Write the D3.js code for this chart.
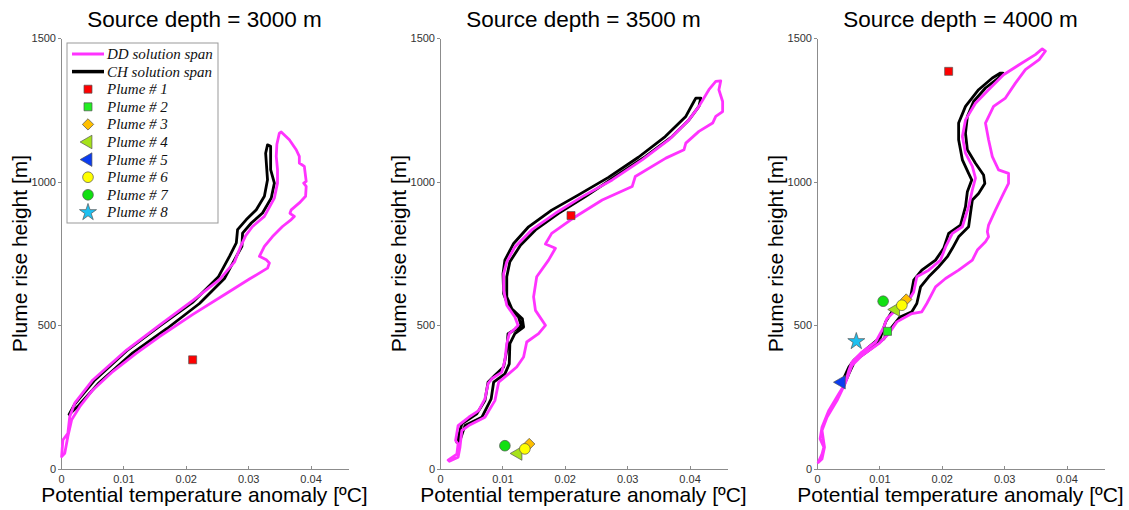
<!DOCTYPE html>
<meta charset="utf-8">
<html>
<head>
<title>Plume rise height vs temperature anomaly</title>
<style>
  body { margin: 0; background: #fff; }
  .axis path, .axis line { stroke: #8c8c8c; shape-rendering: crispEdges; }
  .axis text { font: 11px "Liberation Sans", Arial, sans-serif; fill: #333; }
  .title, .label { font-family: "Liberation Sans", Arial, sans-serif; fill: #000; }
  .legend text { font: italic 15px "Liberation Serif", "Times New Roman", serif; fill: #111; }
</style>
</head>
<body>
<div id="chart"></div>
<script src="https://d3js.org/d3.v7.min.js"></script>
<script>
// ---- data ([temperature anomaly ºC, height m]) ----
var depths = ["3000", "3500", "4000"];
var xTicks = [0, 0.01, 0.02, 0.03, 0.04];
var xTickLabels = ["0", "0.01", "0.02", "0.03", "0.04"];
var yTicks = [0, 500, 1000, 1500];
var yTickLabels = ["0", "500", "1000", "1500"];

// source depth 3000 m
var dd3000 = [[0.0001,43],[0.0003,101],[0.0011,124],[0.0014,182],[0.0022,229],[0.0051,310],[0.0105,414],
  [0.0158,501],[0.0212,588],[0.0254,659],[0.0278,720],[0.0288,775],[0.0296,812],[0.0307,844],[0.0326,879],
  [0.0342,943],[0.0347,995],[0.0347,1042],[0.0345,1088],[0.0346,1130],[0.0350,1169],[0.0353,1173],
  [0.0366,1146],[0.0377,1111],[0.0382,1088],[0.0382,1065],[0.0390,1053],[0.0393,1001],[0.0389,995],[0.0393,984],
  [0.0392,949],[0.0382,926],[0.0369,902],[0.0367,890],[0.0374,879],[0.0369,868],[0.0355,844],[0.0339,809],
  [0.0326,775],[0.0318,740],[0.0329,728],[0.0334,717],[0.0331,699],[0.0302,661],[0.0265,611],[0.0212,539],
  [0.0158,461],[0.0121,403],[0.0083,339],[0.0051,275],[0.0030,217],[0.0017,171],[0.0011,113],[0.0006,55]];
var ch3000 = [[0.0013,190],[0.0022,226],[0.0053,307],[0.0105,411],[0.0158,497],[0.0212,582],[0.0252,668],
  [0.0270,740],[0.0281,787],[0.0283,833],[0.0297,868],[0.0313,902],[0.0326,949],[0.0331,1007],[0.0328,1099],
  [0.0331,1128],[0.0336,1123],[0.0336,1042],[0.0342,995],[0.0337,943],[0.0323,891],[0.0305,856],[0.0291,821],
  [0.0290,775],[0.0278,728],[0.0262,663],[0.0222,576],[0.0170,489],[0.0115,404],[0.0061,300],[0.0028,220]];

// source depth 3500 m
var dd3500 = [[0.0013,31],[0.0027,52],[0.0029,87],[0.0025,99],[0.0029,151],[0.0046,180],[0.0062,203],[0.0072,244],
  [0.0077,297],[0.0083,314],[0.0099,337],[0.0104,378],[0.0107,436],[0.0111,471],[0.0120,488],[0.0125,500],
  [0.0120,529],[0.0107,570],[0.0102,622],[0.0102,680],[0.0107,721],[0.0120,773],[0.0147,832],[0.0185,890],
  [0.0228,948],[0.0276,1006],[0.0324,1076],[0.0367,1146],[0.0399,1215],[0.0415,1262],[0.0431,1320],[0.0442,1349],
  [0.0450,1351],[0.0447,1320],[0.0453,1279],[0.0453,1244],[0.0442,1227],[0.0437,1204],[0.0415,1175],[0.0394,1134],
  [0.0391,1111],[0.0362,1082],[0.0313,1018],[0.0308,983],[0.0260,936],[0.0217,878],[0.0179,820],[0.0169,783],
  [0.0185,768],[0.0174,727],[0.0155,669],[0.0150,599],[0.0153,552],[0.0169,500],[0.0158,471],[0.0139,442],
  [0.0134,390],[0.0123,355],[0.0110,331],[0.0094,302],[0.0088,238],[0.0072,180],[0.0046,151],[0.0035,134],
  [0.0032,76],[0.0029,41],[0.0015,27]];
var ch3500 = [[0.0027,93],[0.0035,157],[0.0059,192],[0.0072,238],[0.0077,302],[0.0088,326],[0.0102,355],
  [0.0107,413],[0.0109,471],[0.0123,488],[0.0130,500],[0.0126,529],[0.0110,564],[0.0102,610],[0.0101,680],
  [0.0104,727],[0.0118,785],[0.0142,843],[0.0179,901],[0.0222,954],[0.0270,1015],[0.0318,1085],[0.0361,1157],
  [0.0394,1227],[0.0407,1279],[0.0410,1291],[0.0418,1291],[0.0415,1262],[0.0399,1215],[0.0372,1157],[0.0329,1087],
  [0.0281,1018],[0.0233,948],[0.0190,890],[0.0153,832],[0.0129,779],[0.0112,721],[0.0107,669],[0.0107,599],
  [0.0115,558],[0.0132,523],[0.0134,494],[0.0120,471],[0.0112,436],[0.0111,366],[0.0104,331],[0.0086,302],
  [0.0082,244],[0.0067,180],[0.0040,151],[0.0032,99]];

// source depth 4000 m
var dd4000 = [[0.0002,23],[0.0008,52],[0.0011,76],[0.0005,105],[0.0008,145],[0.0019,204],[0.0035,262],[0.0045,297],
  [0.0051,343],[0.0056,372],[0.0072,407],[0.0094,442],[0.0107,494],[0.0112,523],[0.0131,564],[0.0147,587],
  [0.0155,616],[0.0160,669],[0.0179,692],[0.0198,727],[0.0206,773],[0.0217,820],[0.0233,843],[0.0243,913],
  [0.0249,971],[0.0254,1012],[0.0249,1053],[0.0238,1099],[0.0233,1157],[0.0238,1215],[0.0254,1273],[0.0275,1320],
  [0.0299,1372],[0.0324,1407],[0.0350,1442],[0.0361,1462],[0.0366,1454],[0.0356,1425],[0.0334,1390],[0.0318,1343],
  [0.0302,1291],[0.0283,1262],[0.0270,1204],[0.0275,1146],[0.0281,1087],[0.0291,1041],[0.0307,1029],[0.0307,994],
  [0.0299,959],[0.0286,901],[0.0275,849],[0.0273,826],[0.0275,808],[0.0270,791],[0.0257,762],[0.0249,727],
  [0.0227,692],[0.0206,663],[0.0190,634],[0.0176,576],[0.0168,547],[0.0152,541],[0.0128,512],[0.0115,471],
  [0.0099,436],[0.0072,395],[0.0056,360],[0.0045,297],[0.0032,238],[0.0016,180],[0.0008,134],[0.0012,76],[0.0008,35]];
var ch4000 = [[0.0039,297],[0.0051,355],[0.0059,378],[0.0080,419],[0.0102,459],[0.0110,512],[0.0120,547],
  [0.0136,570],[0.0150,599],[0.0155,657],[0.0168,692],[0.0190,727],[0.0203,768],[0.0211,820],[0.0230,849],
  [0.0238,913],[0.0241,965],[0.0248,1006],[0.0243,1029],[0.0233,1076],[0.0227,1146],[0.0227,1204],[0.0238,1262],
  [0.0259,1320],[0.0281,1361],[0.0294,1378],[0.0298,1378],[0.0291,1361],[0.0270,1326],[0.0251,1279],[0.0241,1227],
  [0.0238,1169],[0.0241,1111],[0.0254,1064],[0.0267,1023],[0.0269,994],[0.0259,959],[0.0249,936],[0.0246,890],
  [0.0243,843],[0.0227,808],[0.0217,768],[0.0209,739],[0.0195,704],[0.0179,669],[0.0166,634],[0.0160,576],
  [0.0152,547],[0.0133,529],[0.0120,494],[0.0107,453],[0.0083,413],[0.0061,378],[0.0051,331],[0.0043,291]];

// plumes: [plume index, temperature anomaly, height]
var plumes3000 = [[1, 0.0211, 380]];
var plumes3500 = [[1, 0.0210, 882], [7, 0.0104, 81], [4, 0.0125, 54], [3, 0.0143, 87], [6, 0.0136, 70]];
var plumes4000 = [[1, 0.0211, 1384], [7, 0.0106, 584], [3, 0.0143, 590], [4, 0.0126, 555], [6, 0.0136, 570],
  [2, 0.0113, 479], [8, 0.0063, 444], [5, 0.0039, 302]];

var plumeNames = ["Plume # 1","Plume # 2","Plume # 3","Plume # 4","Plume # 5","Plume # 6","Plume # 7","Plume # 8"];
var plumeShapes = ["square","square","diamond","triLeft","triLeft","circle","circle","star"];
var plumeColors = ["#ff0000","#22ee22","#ffbf00","#a6e21a","#0a3cf0","#ffff00","#11e011","#1ec0f0"];

var panels = [
  {depth: depths[0], dd: dd3000, ch: ch3000, plumes: plumes3000, left: 61},
  {depth: depths[1], dd: dd3500, ch: ch3500, plumes: plumes3500, left: 440},
  {depth: depths[2], dd: dd4000, ch: ch4000, plumes: plumes4000, left: 817}
];

var W = 1129, H = 510, pw = 287, plotTop = 38, plotBottom = 469;

var svg = d3.select("#chart").append("svg")
  .attr("width", W).attr("height", H);

function symbolPath(shape) {
  if (shape == "square") return {d: d3.symbol(d3.symbolSquare, 64)(), rot: 0};
  if (shape == "diamond") return {d: d3.symbol(d3.symbolSquare, 64)(), rot: 45};
  if (shape == "triLeft") return {d: d3.symbol(d3.symbolTriangle, 80)(), rot: -90};
  if (shape == "circle") return {d: d3.symbol(d3.symbolCircle, 90)(), rot: 0};
  return {d: d3.symbol(d3.symbolStar, 90)(), rot: 0};
}

function drawMarker(g, idx, cx, cy) {
  var s = symbolPath(plumeShapes[idx]);
  g.append("path")
    .attr("d", s.d)
    .attr("transform", "translate(" + cx + "," + cy + ") rotate(" + s.rot + ")")
    .attr("fill", plumeColors[idx])
    .attr("stroke", "#555")
    .attr("stroke-width", 0.7);
}

panels.forEach(function(p) {
  var x = d3.scaleLinear().domain([0, 0.046]).range([p.left, p.left + pw]);
  var y = d3.scaleLinear().domain([0, 1500]).range([plotBottom, plotTop]);
  var g = svg.append("g");

  g.append("g").attr("class", "axis")
    .attr("transform", "translate(0," + plotBottom + ")")
    .call(d3.axisBottom(x).tickValues(xTicks).tickFormat(function(d, i) { return xTickLabels[i]; })
      .tickSizeInner(-3).tickSizeOuter(0).tickPadding(6));
  g.append("g").attr("class", "axis")
    .attr("transform", "translate(" + p.left + ",0)")
    .call(d3.axisLeft(y).tickValues(yTicks).tickFormat(function(d, i) { return yTickLabels[i]; })
      .tickSizeInner(3).tickSizeOuter(0).tickPadding(2));

  var line = d3.line().x(function(d) { return x(d[0]); }).y(function(d) { return y(d[1]); })
    .curve(d3.curveLinearClosed);

  g.append("path").attr("d", line(p.ch))
    .attr("fill", "none").attr("stroke", "#000").attr("stroke-width", 2.8).attr("stroke-linejoin", "round");
  g.append("path").attr("d", line(p.dd))
    .attr("fill", "none").attr("stroke", "#ff33ff").attr("stroke-width", 2.8).attr("stroke-linejoin", "round");

  p.plumes.forEach(function(m) { drawMarker(g, m[0] - 1, x(m[1]), y(m[2])); });

  var cx = p.left + pw / 2;
  g.append("text").attr("class", "title")
    .attr("x", cx).attr("y", 27).attr("text-anchor", "middle")
    .style("font-size", "22.5px")
    .text("Source depth = " + p.depth + " m");
  g.append("text").attr("class", "label")
    .attr("x", cx).attr("y", 502).attr("text-anchor", "middle")
    .style("font-size", "21px")
    .text("Potential temperature anomaly [ºC]");
  g.append("text").attr("class", "label")
    .attr("transform", "translate(" + (p.left - 34) + "," + ((plotTop + plotBottom) / 2) + ") rotate(-90)")
    .attr("text-anchor", "middle")
    .style("font-size", "21px")
    .text("Plume rise height [m]");
});

// legend in the first panel
var lg = svg.append("g").attr("class", "legend");
lg.append("rect").attr("x", 67).attr("y", 43).attr("width", 151).attr("height", 180)
  .attr("fill", "#fff").attr("stroke", "#999").attr("stroke-width", 1);
var rowH = 17.6, row0 = 54;
var lineItems = [["DD solution span", "#ff33ff", 3], ["CH solution span", "#000", 3.5]];
lineItems.forEach(function(it, i) {
  var yy = row0 + i * rowH;
  lg.append("line").attr("x1", 72).attr("x2", 104).attr("y1", yy).attr("y2", yy)
    .attr("stroke", it[1]).attr("stroke-width", it[2]);
  lg.append("text").attr("x", 107).attr("y", yy + 5).text(it[0]);
});
plumeNames.forEach(function(name, i) {
  var yy = row0 + (i + 2) * rowH;
  drawMarker(lg, i, 88, yy);
  lg.append("text").attr("x", 107).attr("y", yy + 5).text(name);
});
</script>
</body>
</html>
